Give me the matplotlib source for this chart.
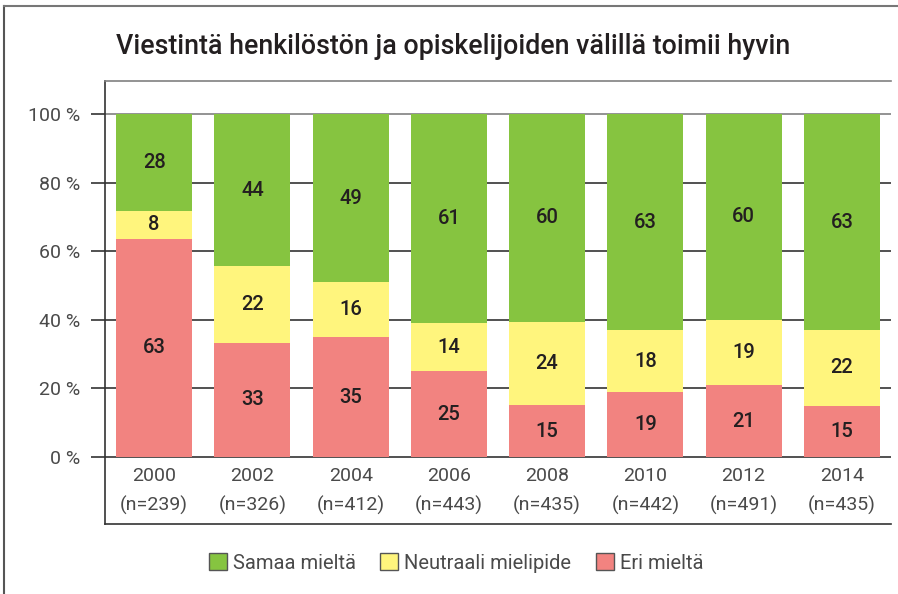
import numpy as np
import matplotlib.pyplot as plt
from matplotlib.lines import Line2D
from matplotlib.patches import Patch

years = ['2000', '2002', '2004', '2006', '2008', '2010', '2012', '2014']
n_sizes = ['(n=239)', '(n=326)', '(n=412)', '(n=443)', '(n=435)', '(n=442)', '(n=491)', '(n=435)']
samaa = [28, 44, 49, 61, 60, 63, 60, 63]
neutraali = [8, 22, 16, 14, 24, 18, 19, 22]
eri = [63, 33, 35, 25, 15, 19, 21, 15]

c_green = '#86c440'
c_yellow = '#fff57d'
c_red = '#f28380'

plt.rcParams['font.family'] = ['Roboto', 'DejaVu Sans']

fig = plt.figure(figsize=(8.98, 5.94), dpi=100)
ax = fig.add_axes([105 / 898, 70 / 594, 786 / 898, 443 / 594])

x = np.arange(len(years))
tot = np.array(samaa) + np.array(neutraali) + np.array(eri)
r = np.array(eri) / tot * 100
yv = np.array(neutraali) / tot * 100
g = np.array(samaa) / tot * 100

w = 0.773
ax.bar(x, r, w, color=c_red, zorder=3)
ax.bar(x, yv, w, bottom=r, color=c_yellow, zorder=3)
ax.bar(x, g, w, bottom=r + yv, color=c_green, zorder=3)

lab = '#4a4a4a'
for i in range(len(years)):
    segs = [(r[i] / 2, eri[i]), (r[i] + yv[i] / 2, neutraali[i]), (r[i] + yv[i] + g[i] / 2, samaa[i])]
    for yc, v in segs:
        ax.text(x[i], yc, str(v), ha='center', va='center', fontsize=14.5,
                fontweight='medium', color='#231f20', zorder=4)
    ax.text(x[i], -5.5, years[i], ha='center', va='center', fontsize=14,
            color=lab)
    ax.text(x[i], -14, n_sizes[i], ha='center', va='center', fontsize=14,
            color=lab)

for t in range(0, 101, 20):
    ax.axhline(t, color='#808080' if t == 100 else '#333333', lw=1.2, zorder=1)

ax.set_xlim(-0.5, 7.5)
ax.set_ylim(-19.5, 109.6)
ax.set_xticks([])
ax.set_yticks(range(0, 101, 20))
ax.set_yticklabels([f'{t} %' for t in range(0, 101, 20)], fontsize=14, color=lab)
ax.tick_params(axis='y', length=10, width=1.2, color='#333333', pad=8)
ax.spines['right'].set_visible(False)
ax.spines['top'].set_color('#808080')
ax.spines['left'].set_color('#333333')
ax.spines['bottom'].set_color('#333333')
for s in ['top', 'left', 'bottom']:
    ax.spines[s].set_linewidth(1.2)

fig.text(453 / 898, 1 - 46 / 594, 'Viestintä henkilöstön ja opiskelijoiden välillä toimii hyvin',
         ha='center', va='center', fontsize=19.3, fontweight='medium', color='#231f20')

# outer frame
fig.add_artist(Line2D([4 / 898, 4 / 898], [0, 1 - 6 / 594], transform=fig.transFigure, color='#555555', lw=1.5))
fig.add_artist(Line2D([4 / 898, 1], [1 - 6 / 594, 1 - 6 / 594], transform=fig.transFigure, color='#777777', lw=1.5))

handles = [Patch(facecolor=c_green, edgecolor='#555555', label='Samaa mieltä'),
           Patch(facecolor=c_yellow, edgecolor='#555555', label='Neutraali mielipide'),
           Patch(facecolor=c_red, edgecolor='#555555', label='Eri mieltä')]
leg = fig.legend(handles=handles, loc='center', bbox_to_anchor=(456 / 898, 1 - 563 / 594), ncol=3,
                 frameon=False, prop={'size': 14.5}, handlelength=0.9,
                 handleheight=0.9, handletextpad=0.3, columnspacing=1.2, labelcolor=lab)

fig.savefig('out.png', dpi=100)
